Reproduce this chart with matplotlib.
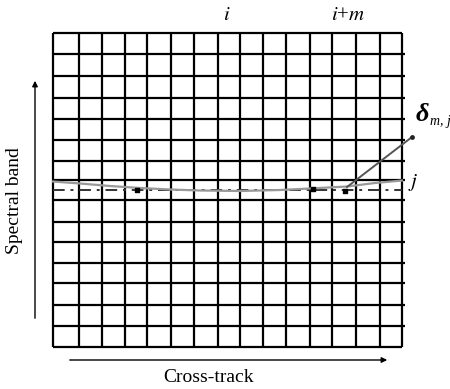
import numpy as np
import matplotlib.pyplot as plt

plt.rcParams['font.family'] = ['Liberation Serif', 'DejaVu Serif']
plt.rcParams['mathtext.fontset'] = 'stix'

# grid line positions (pixel coords of the drawing)
col_edges = [53, 79, 102, 125, 147, 171, 194, 218, 240, 263, 286, 310, 332, 356, 380, 402]
row_edges = [33, 54, 76, 98, 119, 140, 161, 180, 200, 222, 242, 263, 283, 305, 326, 347]

# band j centre line (dash-dot) and the smile curve
band_y = 190
curve_x = [53, 80, 110, 140, 170, 200, 240, 280, 310, 347, 375, 402]
curve_y = [181.5, 183.5, 186, 188, 189.5, 190.5, 191, 190, 188.5, 186.5, 183, 180.5]
dots_x = [137, 313, 345]
dots_y = [190, 189, 191]
delta_line_x = [347, 412]
delta_line_y = [187, 137]

fig = plt.figure(figsize=(4.5, 3.89), dpi=100)
ax = fig.add_axes([0, 0, 1, 1])
ax.set_xlim(0, 450)
ax.set_ylim(389, 0)
ax.axis('off')

for x in col_edges:
    ax.plot([x, x], [row_edges[0], row_edges[-1]], color='black', lw=1.6, solid_capstyle='butt')
for k, y in enumerate(row_edges):
    x1 = col_edges[-1] + (3 if 0 < k < len(row_edges) - 1 else 0)
    ax.plot([col_edges[0], x1], [y, y], color='black', lw=1.6, solid_capstyle='butt')

ax.plot([col_edges[0], col_edges[-1]], [band_y, band_y], color='#333333', lw=1.4, linestyle=(0, (6, 3, 1.5, 3)))
ax.plot(curve_x, curve_y, color='#999999', lw=1.6)
ax.plot(delta_line_x, delta_line_y, color='#555555', lw=1.4)
ax.scatter(delta_line_x[-1:], delta_line_y[-1:], s=6, color='#222222', zorder=5)
ax.scatter(dots_x, dots_y, s=8, marker='s', color='black', zorder=5)

# arrows
ax.annotate('', xy=(35, 78), xytext=(35, 321),
            arrowprops=dict(arrowstyle='-|>', color='black', lw=1.0, mutation_scale=8))
ax.annotate('', xy=(390, 360), xytext=(67, 360),
            arrowprops=dict(arrowstyle='-|>', color='black', lw=1.0, mutation_scale=8))

ax.text(15, 201, 'Spectral band', rotation=90, ha='center', va='center', fontsize=14)
ax.text(209, 378, 'Cross-track', ha='center', va='center', fontsize=14)
ax.text(227, 15, r'$i$', ha='center', va='center', fontsize=15)
ax.text(348, 15, r'$i$+$m$', ha='center', va='center', fontsize=15)
ax.text(413, 182, r'$j$', ha='center', va='center', fontsize=15)
ax.text(416, 114, 'δ', ha='left', va='center', fontsize=19,
        style='italic', fontweight='bold')
ax.text(430, 121, 'm, j', ha='left', va='center', fontsize=10, style='italic')

fig.savefig('out.png', dpi=100)
